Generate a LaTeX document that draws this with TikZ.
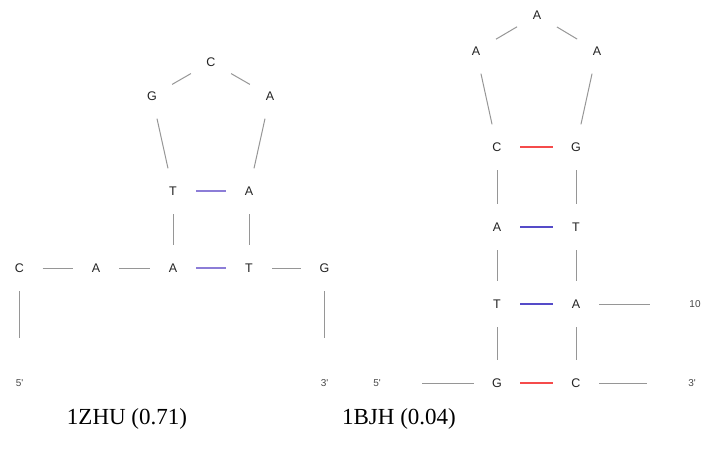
\documentclass[tikz,border=0pt]{standalone}
\usepackage{fontspec}
\setmainfont{Liberation Serif}
\newfontfamily\basefont{Liberation Sans}
\definecolor{bbgray}{RGB}{150,150,150}
\definecolor{lav}{RGB}{140,125,215}
\definecolor{pairblue}{RGB}{85,75,200}
\definecolor{pairred}{RGB}{245,75,75}
\definecolor{lettergray}{RGB}{35,35,35}
\definecolor{labelgray}{RGB}{70,70,70}
\begin{document}
\begin{tikzpicture}[x=1pt,y=-1pt,
  base/.style={circle,minimum size=46pt,inner sep=0pt,font=\basefont\fontsize{12.5}{12.5}\selectfont,text=lettergray},
  endlabel/.style={circle,minimum size=90pt,inner sep=0pt,font=\basefont\fontsize{10}{10}\selectfont,text=labelgray},
  backbone/.style={draw=bbgray,line width=1pt},
  pairlav/.style={draw=lav,line width=1.1pt},
  pairblu/.style={draw=pairblue,line width=1.1pt},
  pairred/.style={draw=pairred,line width=1.1pt},
  caption/.style={anchor=base,font=\fontsize{23}{23}\selectfont}]
\path[use as bounding box] (0,0) rectangle (703,454);

% ---- 1ZHU ----
\node[base] (l1) at (19.5,268) {C};
\node[base] (l2) at (96,268) {A};
\node[base] (l3) at (173,268) {A};
\node[base] (l4) at (173,191) {T};
\node[base] (l5) at (152,96) {G};
\node[base] (l6) at (211,62) {C};
\node[base] (l7) at (270,96) {A};
\node[base] (l8) at (249,191) {A};
\node[base] (l9) at (249,268) {T};
\node[base] (l10) at (324.5,268) {G};
\node[endlabel] (l5p) at (19.5,383) {5'};
\node[endlabel] (l3p) at (324.5,383) {3'};

\draw[backbone] (l5p) -- (l1);
\draw[backbone] (l1) -- (l2);
\draw[backbone] (l2) -- (l3);
\draw[backbone] (l3) -- (l4);
\draw[backbone] (l4) -- (l5);
\draw[backbone] (l5) -- (l6);
\draw[backbone] (l6) -- (l7);
\draw[backbone] (l7) -- (l8);
\draw[backbone] (l8) -- (l9);
\draw[backbone] (l9) -- (l10);
\draw[backbone] (l10) -- (l3p);
\draw[pairlav] (l4) -- (l8);
\draw[pairlav] (l3) -- (l9);

\node[caption] (cap1) at (127,424) {1ZHU (0.71)};

% ---- 1BJH ----
\node[base] (r1) at (497,383) {G};
\node[base] (r2) at (497,304) {T};
\node[base] (r3) at (497,227) {A};
\node[base] (r4) at (497,147) {C};
\node[base] (r5) at (476,51) {A};
\node[base] (r6) at (537,15) {A};
\node[base] (r7) at (597,51) {A};
\node[base] (r8) at (576,147) {G};
\node[base] (r9) at (576,227) {T};
\node[base] (r10) at (576,304) {A};
\node[base] (r11) at (576,383) {C};
\node[endlabel] (r5p) at (377,383) {5'};
\node[endlabel] (r3p) at (692,383) {3'};
\node[endlabel] (r10l) at (695,304) {10};

\draw[backbone] (r5p) -- (r1);
\draw[backbone] (r1) -- (r2);
\draw[backbone] (r2) -- (r3);
\draw[backbone] (r3) -- (r4);
\draw[backbone] (r4) -- (r5);
\draw[backbone] (r5) -- (r6);
\draw[backbone] (r6) -- (r7);
\draw[backbone] (r7) -- (r8);
\draw[backbone] (r8) -- (r9);
\draw[backbone] (r9) -- (r10);
\draw[backbone] (r10) -- (r11);
\draw[backbone] (r11) -- (r3p);
\draw[backbone] (r10) -- (r10l);
\draw[pairred] (r1) -- (r11);
\draw[pairblu] (r2) -- (r10);
\draw[pairblu] (r3) -- (r9);
\draw[pairred] (r4) -- (r8);

\node[caption] (cap2) at (399,424) {1BJH (0.04)};
\end{tikzpicture}
\end{document}
